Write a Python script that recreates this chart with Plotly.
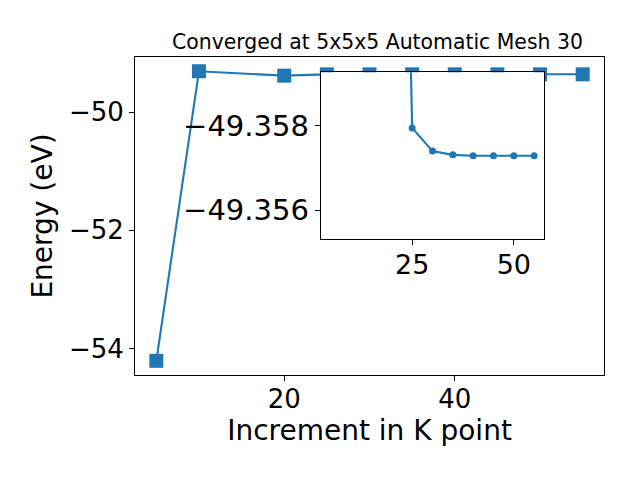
import plotly.graph_objects as go

# Data
kpoints = [5, 10, 20, 25, 30, 35, 40, 45, 50, 55]
energy = [-54.21, -49.305, -49.38, -49.35795, -49.3574, -49.35731,
          -49.35729, -49.35729, -49.35729, -49.35729]
inset_start = 2  # inset plots from the 20 k-point run onward

title_text = "Converged at 5x5x5 Automatic Mesh 30"
xlabel = "Increment in K point"
ylabel = "Energy (eV)"

blue = "#1f77b4"
font_family = "DejaVu Sans"

# page has an 8px body margin; figure is sized to fit inside the 640x480 window
OFF = 8
W, H = 640 - 2 * OFF, 480 - 2 * OFF
# plot-area edges in page pixels
PL, PR, PT, PB = 135, 604, 57, 375.3
L, T = PL - OFF, PT - OFF
R = W - (PR - OFF)
B = H - (PB - OFF)

fig = go.Figure()
fig.add_trace(go.Scatter(
    x=kpoints, y=energy, mode="lines+markers",
    line=dict(color=blue, width=2.1),
    marker=dict(symbol="square", size=14, color=blue),
    xaxis="x", yaxis="y", showlegend=False, cliponaxis=True))
fig.add_trace(go.Scatter(
    x=kpoints[inset_start:], y=energy[inset_start:], mode="lines+markers",
    line=dict(color=blue, width=2.1),
    marker=dict(symbol="circle", size=7, color=blue),
    xaxis="x2", yaxis="y2", showlegend=False, cliponaxis=True))

pw = PR - PL
ph = PB - PT
ix0, ix1 = 320.7, 544.3
iy0, iy1 = 72.3, 239.3


def ax_style(size, standoff=0):
    return dict(showgrid=False, zeroline=False, showline=True, mirror=True,
                linecolor="black", linewidth=1, ticks="outside", ticklen=5,
                tickwidth=1, tickcolor="black", ticklabelstandoff=standoff,
                tickfont=dict(family=font_family, size=size, color="black"))


fig.update_layout(
    width=W, height=H,
    margin=dict(l=L, r=R, t=T, b=B, pad=0),
    paper_bgcolor="white", plot_bgcolor="white",
    font=dict(family=font_family, color="black"),
    xaxis=dict(domain=[0, 1], range=[2.5, 57.5], dtick=20, tick0=0,
               title=dict(text=xlabel, font=dict(size=28), standoff=6),
               anchor="y", **ax_style(26, -4)),
    yaxis=dict(domain=[0, 1], range=[-54.45, -49.064], dtick=2, tick0=0,
               title=dict(text=ylabel, font=dict(size=28), standoff=8),
               anchor="x", **ax_style(26)),
    xaxis2=dict(domain=[(ix0 - PL) / pw, (ix1 - PL) / pw], range=[2.5, 57.5],
                dtick=25, tick0=0, anchor="y2", **ax_style(27, -4)),
    yaxis2=dict(domain=[(PB - iy1) / ph, (PB - iy0) / ph],
                range=[-49.35531, -49.35927], dtick=0.002, tick0=0,
                tickformat=".3f", anchor="x2", **ax_style(29)),
    annotations=[dict(text=title_text, x=(377 - PL) / pw, y=1, xref="paper",
                      yref="paper", xanchor="center", yanchor="middle",
                      yshift=15, showarrow=False,
                      font=dict(family=font_family, size=20.4, color="black"))],
)

fig.write_html("out.html")
